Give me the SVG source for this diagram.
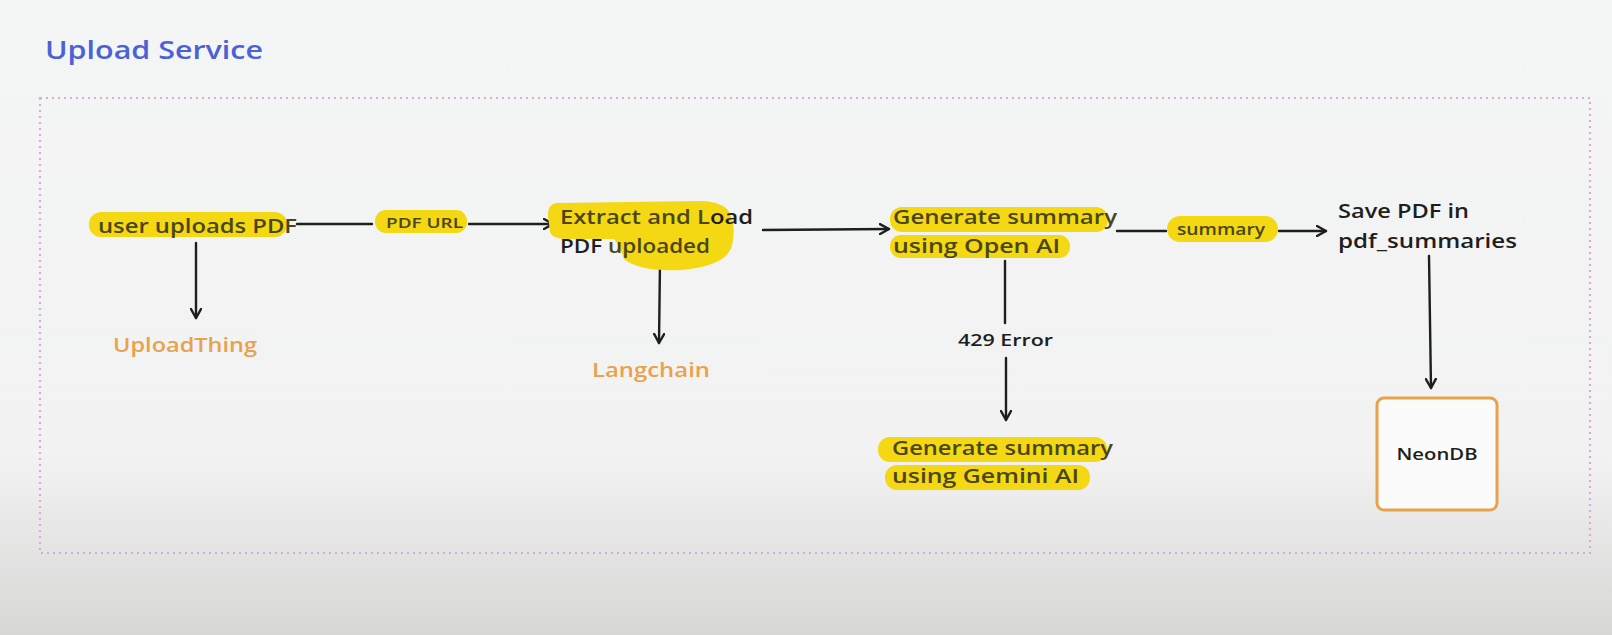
<svg xmlns="http://www.w3.org/2000/svg" width="1612" height="635" viewBox="0 0 1612 635">
<defs>
<linearGradient id="bg" x1="0" y1="0" x2="0" y2="1">
<stop offset="0" stop-color="#f4f5f5"/>
<stop offset="0.72" stop-color="#f1f2f1"/>
<stop offset="1" stop-color="#d7d8d6"/>
</linearGradient>
<marker id="ah" viewBox="0 0 12 12" refX="10" refY="6" markerWidth="12" markerHeight="12" markerUnits="userSpaceOnUse" orient="auto">
<path d="M1,1 L10,6 L1,11" fill="none" stroke="#1e1e1e" stroke-width="2.4" stroke-linecap="round" stroke-linejoin="round"/>
</marker>
<style>
.t{font-family:"Open Sans","Liberation Sans",sans-serif;font-weight:600;fill:#1e1e1e}
.ol{fill:#4a4616}
.or{fill:#e9a24c}
.hl{fill:#f4d814}
.ln{stroke:#1e1e1e;stroke-width:2.4;fill:none;stroke-linecap:round}
</style>
</defs>
<rect width="1612" height="635" fill="url(#bg)"/>
<text class="t" x="45" y="59" font-size="25" fill="#4b62d6" style="fill:#4b62d6" textLength="218" lengthAdjust="spacingAndGlyphs">Upload Service</text>
<rect x="40" y="98" width="1550" height="455" fill="none" stroke="#dba9dc" stroke-width="2.2" stroke-dasharray="2 4"/>

<g id="connectors">
<path class="ln" d="M297,224 L372,224"/>
<path class="ln" d="M469,224 L553,224" marker-end="url(#ah)"/>
<path class="ln" d="M196,243 L196,318" marker-end="url(#ah)"/>
<path class="ln" d="M660,262 L659,343" marker-end="url(#ah)"/>
<path class="ln" d="M763,230 L889,229" marker-end="url(#ah)"/>
<path class="ln" d="M1117,231 L1166,231"/>
<path class="ln" d="M1279,231 L1326,231" marker-end="url(#ah)"/>
<path class="ln" d="M1005,261 L1005,323"/>
<path class="ln" d="M1006,358 L1006,420" marker-end="url(#ah)"/>
<path class="ln" d="M1429,256 L1431,388" marker-end="url(#ah)"/>
</g>

<g id="user-uploads">
<rect class="hl" x="89" y="212" width="198" height="25" rx="12"/>
<text class="t ol" x="98" y="233" font-size="20" textLength="199" lengthAdjust="spacingAndGlyphs">user uploads PDF</text>
</g>

<g id="pdf-url">
<rect class="hl" x="375" y="210" width="92" height="23" rx="11"/>
<text class="t ol" x="386" y="228" font-size="15" textLength="77" lengthAdjust="spacingAndGlyphs">PDF URL</text>
</g>

<g id="uploadthing">
<text class="t or" x="113" y="352" font-size="20" textLength="144" lengthAdjust="spacingAndGlyphs">UploadThing</text>
</g>

<g id="extract">
<path class="hl" d="M556,203 Q547,205 548,216 L550,232 Q552,239 566,239 L614,239 Q620,246 624,259 Q640,272 682,270 Q726,266 732,246 Q737,222 727,209 Q718,201 700,201 Z"/>
<text class="t" x="560" y="224" font-size="20" textLength="193" lengthAdjust="spacingAndGlyphs"><tspan class="ol">Extract and L</tspan>oad</text>
<text class="t" x="560" y="253" font-size="20" textLength="150" lengthAdjust="spacingAndGlyphs">PDF <tspan class="ol">uploaded</tspan></text>
</g>

<g id="langchain">
<text class="t or" x="592" y="377" font-size="20" textLength="118" lengthAdjust="spacingAndGlyphs">Langchain</text>
</g>

<g id="generate-openai">
<rect class="hl" x="890" y="207" width="218" height="25" rx="12"/>
<rect class="hl" x="890" y="235" width="180" height="23" rx="11"/>
<text class="t ol" x="893" y="224" font-size="20" textLength="224" lengthAdjust="spacingAndGlyphs">Generate summary</text>
<text class="t ol" x="893" y="253" font-size="20" textLength="167" lengthAdjust="spacingAndGlyphs">using Open AI</text>
</g>

<g id="summary-label">
<rect class="hl" x="1167" y="216" width="111" height="26" rx="13"/>
<text class="t ol" x="1177" y="235" font-size="16" textLength="88" lengthAdjust="spacingAndGlyphs">summary</text>
</g>

<g id="error-429">
<text class="t" x="958" y="346" font-size="17" textLength="95" lengthAdjust="spacingAndGlyphs">429 Error</text>
</g>

<g id="generate-gemini">
<rect class="hl" x="878" y="437" width="229" height="25" rx="12"/>
<rect class="hl" x="885" y="465" width="205" height="25" rx="12"/>
<text class="t ol" x="892" y="455" font-size="20" textLength="221" lengthAdjust="spacingAndGlyphs">Generate summary</text>
<text class="t ol" x="892" y="483" font-size="20" textLength="187" lengthAdjust="spacingAndGlyphs">using Gemini AI</text>
</g>

<g id="save-pdf">
<text class="t" x="1338" y="218" font-size="20" textLength="131" lengthAdjust="spacingAndGlyphs">Save PDF in</text>
<text class="t" x="1338" y="248" font-size="20" textLength="179" lengthAdjust="spacingAndGlyphs">pdf_summaries</text>
</g>

<g id="neondb">
<rect x="1377" y="398" width="120" height="112" rx="7" fill="#fbfbfb" stroke="#e9a24c" stroke-width="3"/>
<text class="t" x="1437" y="460" font-size="17" text-anchor="middle" textLength="81" lengthAdjust="spacingAndGlyphs">NeonDB</text>
</g>
</svg>
